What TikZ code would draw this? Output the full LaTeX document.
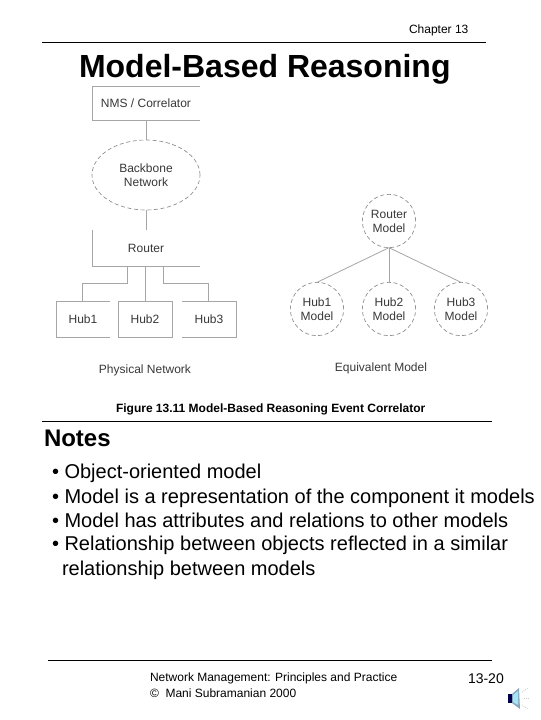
\documentclass[tikz,border=0pt]{standalone}
\usepackage{fontspec}
\usetikzlibrary{shapes.geometric}
\setmainfont{Liberation Sans}
\tikzset{
  x=0.75pt,y=-0.75pt,
  txt/.style={inner sep=0pt,outer sep=0pt,anchor=base west,text=black},
  fig/.style={inner sep=0pt,outer sep=0pt,anchor=center,align=center,text=black!78,font=\fontsize{9pt}{10.6pt}\selectfont},
  edge/.style={draw=black!35,line width=0.6pt},
  dashedge/.style={draw=black!45,line width=0.5pt,densely dashed},
  rule/.style={draw=black,line width=0.75pt},
  circ/.style={circle,fig,dashedge,minimum size=40pt}
}
\begin{document}
\begin{tikzpicture}
\useasboundingbox (0,0) rectangle (540,720);
\fill[white] (0,0) rectangle (540,720);
% header
\node[txt,font=\fontsize{9pt}{11pt}\selectfont] (chap) at (409,34) {Chapter 13};
\coordinate (r1a) at (42,42.5); \coordinate (r1b) at (486,42.5);
\draw[rule] (r1a) -- (r1b);
\node[txt,font=\fontsize{24pt}{28pt}\selectfont\bfseries] (title) at (79,78) {Model-Based Reasoning};
% physical network
\node[fig,minimum width=81pt,minimum height=25.5pt] (nms) at (146,103) {NMS / Correlator};
\node[fig,ellipse,dashedge,minimum width=81pt,minimum height=52.5pt] (bb) at (146,175) {Backbone\\Network};
\node[fig,minimum width=81pt,minimum height=27pt] (rt) at (146,248) {Router};
\node[fig,minimum width=40.5pt,minimum height=27pt] (h1) at (83,319) {Hub1};
\node[fig,minimum width=40.5pt,minimum height=27pt] (h2) at (145,319) {Hub2};
\node[fig,minimum width=40.5pt,minimum height=27pt] (h3) at (209,319) {Hub3};
\draw[edge] (nms.north east) -- (nms.north west) -- (nms.south west) -- (nms.south east);
\draw[edge] (rt.north west) -- (rt.south west) -- (rt.south east);
\draw[edge] (h1.south east) -- (h1.south west) -- (h1.north west) -- (h1.north east);
\draw[edge] (h2.north west) rectangle (h2.south east);
\draw[edge] (h3.north west) -- (h3.north east) -- (h3.south east) -- (h3.south west);
\draw[edge] (nms.south) -- (bb.north);
\draw[edge] (bb.south) -- (rt.north);
\coordinate (j1) at (127,266); \coordinate (j3) at (163,266);
\draw[edge] (j1) |- (82,283) -- (82,301);
\draw[edge] (rt.south -| h2) -- (h2.north);
\draw[edge] (j3) |- (208,283) -- (208,301);
\node[fig] (pn) at (145,370) {Physical Network};
% equivalent model
\node[circ] (rm) at (389,221) {Router\\Model};
\node[circ] (m1) at (317,309) {Hub1\\Model};
\node[circ] (m2) at (389,309) {Hub2\\Model};
\node[circ] (m3) at (461,309) {Hub3\\Model};
\draw[edge] (rm.south) -- (m1.north);
\draw[edge] (rm.south) -- (m2.north);
\draw[edge] (rm.south) -- (m3.north);
\node[fig] (em) at (381,368.5) {Equivalent Model};
\node[txt,font=\fontsize{9pt}{10pt}\selectfont\bfseries] (cap) at (116,412) {Figure 13.11 Model-Based Reasoning Event Correlator};
\coordinate (r2a) at (42,421); \coordinate (r2b) at (492,421);
\draw[rule] (r2a) -- (r2b);
% notes
\node[txt,font=\fontsize{18pt}{20pt}\selectfont\bfseries] (notes) at (44,446) {Notes};
\tikzset{bul/.style={txt,font=\fontsize{15pt}{17pt}\selectfont}}
\node[bul] (b1) at (52,478) {• Object-oriented model};
\node[bul] (b2) at (52,503) {• Model is a representation of the component it models};
\node[bul] (b3) at (52,527) {• Model has attributes and relations to other models};
\node[bul] (b4) at (52,550) {• Relationship between objects reflected in a similar};
\node[bul] (b5) at (62,575) {relationship between models};
% footer
\coordinate (r3a) at (48,660); \coordinate (r3b) at (492,660);
\draw[rule] (r3a) -- (r3b);
\node[txt,font=\fontsize{9pt}{11pt}\selectfont] (f1) at (150,681) {Network Management: Principles and Practice};
\node[txt,font=\fontsize{9pt}{11pt}\selectfont] (f2) at (150,697) {©\ \ Mani Subramanian 2000};
\node[txt,font=\fontsize{10.5pt}{12pt}\selectfont] (pg) at (468,683) {13-20};
% speaker
\fill[black!70!blue] (508,694) rectangle (513,703);
\fill[cyan!50!black!60] (512,694) -- (519,688) -- (520,709) -- (512,703) -- cycle;
\fill[cyan!35] (513,695) -- (518,691) -- (518,705) -- (513,702) -- cycle;
\draw[black!30,densely dotted,line width=0.5pt] (522,692) -- (528,688) (524,698.5) -- (530,698.5) (522,705) -- (528,709);
\end{tikzpicture}
\end{document}
